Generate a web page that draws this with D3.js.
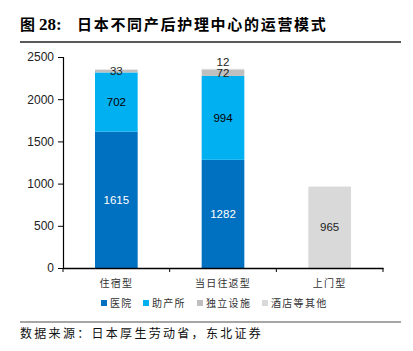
<!DOCTYPE html>
<html>
<head>
<meta charset="utf-8">
<script src="https://cdn.jsdelivr.net/npm/d3@7"></script>
<style>
  body { margin: 0; background: #fff; }
  svg { display: block; }
</style>
</head>
<body>
<svg id="chart" width="413" height="351"></svg>
<script>
// data
const categories = ["住宿型", "当日往返型", "上门型"];
const seriesNames = ["医院", "助产所", "独立设施", "酒店等其他"];
const hospital = [1615, 1282, 0];
const midwife = [702, 994, 0];
const independent = [33, 72, 0];
const hotelOther = [0, 12, 965];
const yTicks = [0, 500, 1000, 1500, 2000, 2500];

const colors = ["#0070C0", "#00B0F0", "#BFBFBF", "#D9D9D9"];
const labelColors = ["#fff", "#000", "#222", "#222"];

const svg = d3.select("#chart");
const cjk = "'Noto Sans CJK SC', 'Noto Sans', sans-serif";
const num = "'Liberation Sans', Arial, sans-serif";

const margin = { left: 63, right: 30, top: 57, bottom: 83 };
const plotW = 413 - margin.left - margin.right;
const plotH = 351 - margin.top - margin.bottom;

const x = d3.scaleBand()
  .domain(categories)
  .range([0, plotW])
  .paddingInner(0.6)
  .paddingOuter(0.3);

const y = d3.scaleLinear().domain([0, 2500]).range([plotH, 0]);

// Title
svg.append("text")
  .attr("x", 20)
  .attr("y", 30)
  .style("font-family", cjk)
  .style("font-weight", "bold")
  .style("font-size", "15px")
  .text("图");
svg.append("text")
  .attr("x", 39)
  .attr("y", 30)
  .style("font-family", "'Liberation Serif', serif")
  .style("font-weight", "bold")
  .style("font-size", "17px")
  .text("28:");
svg.append("text")
  .attr("x", 77)
  .attr("y", 30)
  .style("font-family", cjk)
  .style("font-weight", "bold")
  .style("font-size", "15px")
  .style("letter-spacing", "1.7px")
  .text("日本不同产后护理中心的运营模式");

svg.append("line")
  .attr("x1", 20).attr("x2", 401)
  .attr("y1", 42).attr("y2", 42)
  .attr("stroke", "#222")
  .attr("stroke-width", 1.3);

const g = svg.append("g").attr("transform", `translate(${margin.left},${margin.top})`);

// stacks
const rows = categories.map((c, i) => ({
  cat: c,
  "医院": hospital[i],
  "助产所": midwife[i],
  "独立设施": independent[i],
  "酒店等其他": hotelOther[i]
}));
const stacked = d3.stack().keys(seriesNames)(rows);

stacked.forEach((layer, li) => {
  g.append("g").selectAll("rect")
    .data(layer.filter(d => d[1] - d[0] > 0))
    .enter()
    .append("rect")
    .attr("x", d => x(d.data.cat))
    .attr("width", x.bandwidth())
    .attr("y", d => y(d[1]))
    .attr("height", d => y(d[0]) - y(d[1]))
    .attr("fill", colors[li]);
});

// labels
stacked.forEach((layer, li) => {
  layer.forEach(d => {
    const v = d[1] - d[0];
    if (v <= 0) return;
    let ly = (y(d[0]) + y(d[1])) / 2 + 4;
    if (li === 3 && d.data["独立设施"] > 0) ly = y(d[1]) - 3;
    g.append("text")
      .attr("x", x(d.data.cat) + x.bandwidth() / 2)
      .attr("y", ly)
      .attr("text-anchor", "middle")
      .style("font-family", num)
      .style("font-size", "11.5px")
      .attr("fill", labelColors[li])
      .text(v);
  });
});

// axes
const yAxis = g.append("g")
  .call(d3.axisLeft(y).tickValues(yTicks).tickSize(5).tickPadding(4).tickFormat(d3.format("d")));
yAxis.select(".domain").attr("stroke", "#000").attr("stroke-width", 1.2);
yAxis.selectAll("text").style("font-family", num).style("font-size", "12px").attr("fill", "#222");

const xAxis = g.append("g").attr("transform", `translate(0,${plotH})`)
  .call(d3.axisBottom(x).tickSize(0).tickFormat(""));
xAxis.select(".domain").attr("stroke", "#000").attr("stroke-width", 1.5);

g.append("g").selectAll("line")
  .data(d3.range(categories.length + 1))
  .enter()
  .append("line")
  .attr("x1", i => i * plotW / categories.length)
  .attr("x2", i => i * plotW / categories.length)
  .attr("y1", plotH)
  .attr("y2", plotH + 4)
  .attr("stroke", "#000");

g.append("g").selectAll("text")
  .data(categories)
  .enter()
  .append("text")
  .attr("x", d => x(d) + x.bandwidth() / 2)
  .attr("y", plotH + 19)
  .attr("text-anchor", "middle")
  .style("font-family", cjk)
  .style("font-size", "10px")
  .style("letter-spacing", "1.2px")
  .attr("fill", "#333")
  .text(d => d);

// legend
const legendX = [101, 143, 197, 262];
const legend = svg.append("g").attr("transform", "translate(0,303)");
seriesNames.forEach((s, i) => {
  legend.append("rect")
    .attr("x", legendX[i])
    .attr("y", -3)
    .attr("width", 6)
    .attr("height", 6)
    .attr("fill", colors[i]);
  legend.append("text")
    .attr("x", legendX[i] + 9)
    .attr("y", 4)
    .style("font-family", cjk)
    .style("font-size", "10px")
    .style("letter-spacing", "1.3px")
    .attr("fill", "#333")
    .text(s);
});

// source
svg.append("line")
  .attr("x1", 20).attr("x2", 401)
  .attr("y1", 322).attr("y2", 322)
  .attr("stroke", "#888")
  .attr("stroke-width", 1.5);

svg.append("text")
  .attr("x", 20)
  .attr("y", 338)
  .style("font-family", cjk)
  .style("font-size", "12px")
  .style("letter-spacing", "2.3px")
  .attr("fill", "#111")
  .text("数据来源：日本厚生劳动省，东北证券");
</script>
</body>
</html>
